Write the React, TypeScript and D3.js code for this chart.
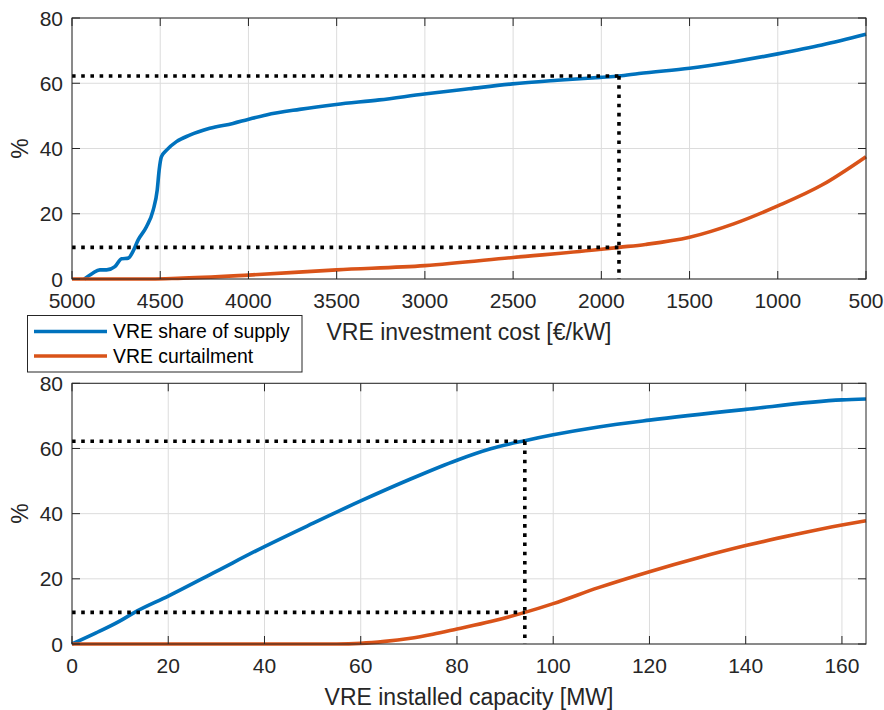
import React from "react";
import * as d3 from "d3";

// ---- Data ----
const topShareCost = [4930, 4885, 4842, 4804, 4757, 4719, 4681, 4653, 4625, 4578, 4540, 4517, 4506, 4493, 4464, 4408, 4333, 4219, 4088, 4003, 3899, 3710, 3503, 3258, 3003, 2750, 2504, 2250, 2008, 1900, 1787, 1500, 1250, 1000, 750, 500];
const topShareValue = [0, 1.7, 2.8, 2.8, 3.8, 6.2, 6.4, 8.6, 12.0, 16.0, 21.1, 27.3, 33.4, 37.5, 39.5, 42.1, 44.1, 46.2, 47.7, 48.9, 50.3, 52.0, 53.5, 54.9, 56.7, 58.3, 59.8, 60.9, 61.8, 62.2, 63.0, 64.6, 66.6, 69.0, 71.7, 75.0];
const topCurtCost = [5000, 4550, 4400, 4000, 3500, 3000, 2500, 2000, 1900, 1750, 1500, 1250, 1000, 750, 500];
const topCurtValue = [0, 0, 0.2, 1.2, 2.8, 4.1, 6.6, 9.1, 9.7, 10.6, 12.8, 16.9, 22.4, 28.8, 37.5];

const botCap = [0, 5, 10, 13, 20, 30, 40, 50, 60, 70, 80, 87, 94.1, 100, 109.4, 120, 140, 160, 165];
const botShare = [0, 3.4, 7.1, 9.7, 14.7, 22.3, 29.9, 37.0, 43.9, 50.4, 56.4, 59.9, 62.4, 64.2, 66.6, 68.7, 72.0, 74.9, 75.2];
const botCurtCap = [0, 40, 55, 60, 65, 70, 75, 80, 87, 94.1, 100, 109.4, 120, 130, 140, 150, 160, 165];
const botCurt = [0, 0, 0, 0.2, 0.8, 1.7, 3.0, 4.6, 6.9, 9.7, 12.4, 17.3, 22.2, 26.4, 30.2, 33.5, 36.5, 37.8];

const refCost = 1900;
const refCap = 94.1;
const refShare = 62.2;
const refCurt = 9.7;

const yTicks = [0, 20, 40, 60, 80];
const costTicks = [5000, 4500, 4000, 3500, 3000, 2500, 2000, 1500, 1000, 500];
const capTicks = [0, 20, 40, 60, 80, 100, 120, 140, 160];

const legendLabels = ["VRE share of supply", "VRE curtailment"];
const topXLabel = "VRE investment cost [€/kW]";
const botXLabel = "VRE installed capacity [MW]";

const BLUE = "#0072BD";
const ORANGE = "#D95319";
const AX = "#262626";
const FONT = "'Liberation Sans', Arial, Helvetica, sans-serif";

type PanelProps = {
  top: number;
  bottom: number;
  x: d3.ScaleLinear<number, number>;
  xTicks: number[];
  series: { xs: number[]; ys: number[]; color: string }[];
  refX: number;
  xLabel: string;
};

const L = 72;
const R = 866;

function Panel({ top, bottom, x, xTicks, series, refX, xLabel }: PanelProps) {
  const y = d3.scaleLinear().domain([0, 80]).range([bottom, top]);
  const sorted = (xs: number[], ys: number[]) =>
    xs.map((v, i) => [x(v), y(ys[i])] as [number, number]).sort((a, b) => a[0] - b[0]);
  const line = d3.line<[number, number]>().x((d) => d[0]).y((d) => d[1]).curve(d3.curveMonotoneX);
  const tl = 8;
  const dotted = { stroke: "#000", strokeWidth: 3.6, strokeDasharray: "3.6 5.6", fill: "none" };
  return (
    <g>
      {xTicks.map((t) => (
        <line key={"gx" + t} x1={x(t)} x2={x(t)} y1={top} y2={bottom} stroke="#dcdcdc" strokeWidth={1} />
      ))}
      {yTicks.map((t) => (
        <line key={"gy" + t} x1={L} x2={R} y1={y(t)} y2={y(t)} stroke="#dcdcdc" strokeWidth={1} />
      ))}
      {series.map((s, i) => (
        <path key={"s" + i} d={line(sorted(s.xs, s.ys)) || ""} fill="none" stroke={s.color} strokeWidth={3.6} strokeLinejoin="round" />
      ))}
      <line x1={L} x2={x(refX)} y1={y(refShare)} y2={y(refShare)} {...dotted} />
      <line x1={L} x2={x(refX)} y1={y(refCurt)} y2={y(refCurt)} {...dotted} />
      <line x1={x(refX)} x2={x(refX)} y1={y(refShare)} y2={bottom} {...dotted} />
      <rect x={L} y={top} width={R - L} height={bottom - top} fill="none" stroke={AX} strokeWidth={1} />
      {xTicks.map((t) => (
        <g key={"tx" + t}>
          <line x1={x(t)} x2={x(t)} y1={bottom} y2={bottom - tl} stroke={AX} strokeWidth={1} />
          <line x1={x(t)} x2={x(t)} y1={top} y2={top + tl} stroke={AX} strokeWidth={1} />
          <text x={x(t)} y={bottom + 29} textAnchor="middle" fontSize={21} fill={AX} fontFamily={FONT}>
            {t}
          </text>
        </g>
      ))}
      {yTicks.map((t) => (
        <g key={"ty" + t}>
          <line x1={L} x2={L + tl} y1={y(t)} y2={y(t)} stroke={AX} strokeWidth={1} />
          <line x1={R} x2={R - tl} y1={y(t)} y2={y(t)} stroke={AX} strokeWidth={1} />
          <text x={L - 9} y={y(t)} dy="0.36em" textAnchor="end" fontSize={21} fill={AX} fontFamily={FONT}>
            {t}
          </text>
        </g>
      ))}
      <text
        transform={`translate(28,${(top + bottom) / 2}) rotate(-90)`}
        textAnchor="middle"
        fontSize={23}
        fill={AX}
        fontFamily={FONT}
      >
        %
      </text>
      <text x={(L + R) / 2} y={bottom + 60.5} textAnchor="middle" fontSize={23} fill={AX} fontFamily={FONT}>
        {xLabel}
      </text>
    </g>
  );
}

export default function App() {
  const xTop = d3.scaleLinear().domain([5000, 500]).range([L, R]);
  const xBot = d3.scaleLinear().domain([0, 165]).range([L, R]);
  return (
    <svg width={884} height={710} style={{ position: "absolute", left: 0, top: 0, background: "#fff" }}>
      <rect width={884} height={710} fill="#fff" />
      <Panel
        top={18}
        bottom={279}
        x={xTop}
        xTicks={costTicks}
        series={[
          { xs: topShareCost, ys: topShareValue, color: BLUE },
          { xs: topCurtCost, ys: topCurtValue, color: ORANGE },
        ]}
        refX={refCost}
        xLabel={topXLabel}
      />
      <Panel
        top={383.3}
        bottom={644}
        x={xBot}
        xTicks={capTicks}
        series={[
          { xs: botCap, ys: botShare, color: BLUE },
          { xs: botCurtCap, ys: botCurt, color: ORANGE },
        ]}
        refX={refCap}
        xLabel={botXLabel}
      />
      <g>
        <rect x={27.5} y={315.5} width={274.5} height={56.5} fill="#fff" stroke={AX} strokeWidth={1} />
        {legendLabels.map((lab, i) => (
          <g key={lab}>
            <line x1={34} x2={107} y1={331.5 + i * 24.5} y2={331.5 + i * 24.5} stroke={i === 0 ? BLUE : ORANGE} strokeWidth={3.6} />
            <text x={113} y={331.5 + i * 24.5} dy="0.36em" fontSize={19.4} fill="#000" fontFamily={FONT}>
              {lab}
            </text>
          </g>
        ))}
      </g>
    </svg>
  );
}
